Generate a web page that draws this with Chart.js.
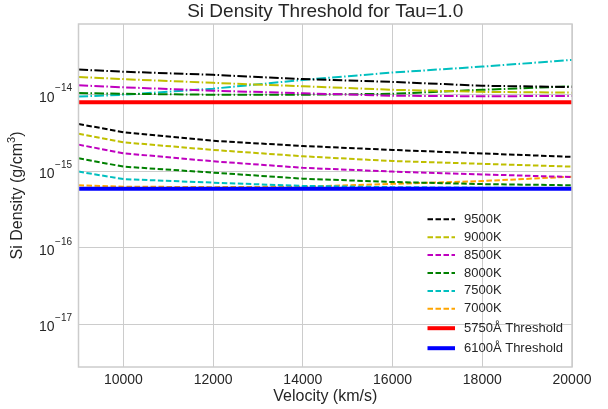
<!DOCTYPE html>
<html>
<head>
<meta charset="utf-8">
<script src="https://cdn.jsdelivr.net/npm/chart.js@4"></script>
<style>
  html, body { margin: 0; padding: 0; background: #ffffff; }
  #wrap { width: 608px; height: 409px; }
</style>
</head>
<body>
<div id="wrap"><canvas id="chart"></canvas></div>
<script>
// velocities (km/s) where the thresholds were computed
const velocities = [9000, 10000, 12000, 14000, 16000, 18000, 20000];

// dashed curves (labelled in the legend)
const dens9500 = [4.15e-15, 3.24e-15, 2.5e-15, 2.14e-15, 1.9e-15, 1.71e-15, 1.54e-15];
const dens9000 = [3.1e-15, 2.39e-15, 1.9e-15, 1.57e-15, 1.36e-15, 1.25e-15, 1.15e-15];
const dens8500 = [2.23e-15, 1.72e-15, 1.35e-15, 1.11e-15, 9.9e-16, 9.1e-16, 8.4e-16];
const dens8000 = [1.48e-15, 1.15e-15, 9.6e-16, 8.0e-16, 7.24e-16, 6.8e-16, 6.56e-16];
const dens7500 = [9.9e-16, 7.9e-16, 7.1e-16, 6.43e-16, 6.2e-16, 6.1e-16, 6.0e-16];
const dens7000 = [6.56e-16, 6.3e-16, 6.2e-16, 6.3e-16, 6.85e-16, 7.46e-16, 8.5e-16];

// dash-dot curves (second line, no legend entry)
const alt9500 = [2.13e-14, 2.0e-14, 1.82e-14, 1.6e-14, 1.47e-14, 1.31e-14, 1.26e-14];
const alt9000 = [1.71e-14, 1.6e-14, 1.43e-14, 1.29e-14, 1.16e-14, 1.09e-14, 1.065e-14];
const alt8500 = [1.33e-14, 1.25e-14, 1.13e-14, 1.045e-14, 9.7e-15, 9.55e-15, 9.65e-15];
const alt8000 = [1.055e-14, 1.03e-14, 1.0e-14, 1.0e-14, 1.03e-14, 1.16e-14, 1.29e-14];
const alt7500 = [9.45e-15, 1.0e-14, 1.2e-14, 1.56e-14, 1.95e-14, 2.33e-14, 2.85e-14];

// horizontal thresholds
const threshold5750 = 8.0e-15;
const threshold6100 = 5.9e-16;

const tempLabels = ["9500K", "9000K", "8500K", "8000K", "7500K", "7000K"];
const tempColors = ["#000000", "#bfbf00", "#bf00bf", "#008000", "#00bfbf", "#ffa500"];
const xTicks = [10000, 12000, 14000, 16000, 18000, 20000];
const yTicks = [1e-17, 1e-16, 1e-15, 1e-14];

const FONT = "'Liberation Sans', Arial, sans-serif";
const TEXT = "#262626";
const GRID = "#cccccc";
const DASH = [5.5, 2.5];
const DASHDOT = [9.6, 2.4, 1.5, 2.4];

function toPoints(values) {
  return velocities.map((v, i) => ({ x: v, y: values[i] }));
}

const dashedSets = [dens9500, dens9000, dens8500, dens8000, dens7500, dens7000];
const dashDotSets = [alt9500, alt9000, alt8500, alt8000, alt7500];

const datasets = [];
datasets.push({
  label: "5750Å Threshold",
  data: velocities.map((v) => ({ x: v, y: threshold5750 })),
  borderColor: "#ff0000",
  borderWidth: 4,
  order: 0,
  legend: true,
});
datasets.push({
  label: "6100Å Threshold",
  data: velocities.map((v) => ({ x: v, y: threshold6100 })),
  borderColor: "#0000ff",
  borderWidth: 4,
  order: 0,
  legend: true,
});
dashedSets.forEach((values, i) => {
  datasets.push({
    label: tempLabels[i],
    data: toPoints(values),
    borderColor: tempColors[i],
    borderWidth: 2,
    borderDash: DASH,
    order: 1,
    legend: true,
  });
});
dashDotSets.forEach((values, i) => {
  datasets.push({
    label: "",
    data: toPoints(values),
    borderColor: tempColors[i],
    borderWidth: 2,
    borderDash: DASHDOT,
    order: 1,
    legend: false,
  });
});

const legendOrder = [...tempLabels, "5750Å Threshold", "6100Å Threshold"];

const decorPlugin = {
  id: "decor",
  afterDraw(chart) {
    const { ctx, chartArea, scales } = chart;
    ctx.save();

    // frame
    ctx.strokeStyle = GRID;
    ctx.lineWidth = 1.5;
    ctx.setLineDash([]);
    ctx.strokeRect(chartArea.left, chartArea.top, chartArea.right - chartArea.left, chartArea.bottom - chartArea.top);

    // y tick labels with superscript exponents
    const yScale = scales.y;
    ctx.fillStyle = TEXT;
    ctx.textBaseline = "middle";
    yScale.ticks.forEach((t) => {
      const y = yScale.getPixelForValue(t.value);
      const exp = "\u2212" + String(-Math.round(Math.log10(t.value)));
      const rightX = chartArea.left - 6.5;
      ctx.font = "10px " + FONT;
      const ew = ctx.measureText(exp).width;
      ctx.textAlign = "left";
      ctx.fillText(exp, rightX - ew, y - 6);
      ctx.font = "14px " + FONT;
      ctx.textAlign = "right";
      ctx.fillText("10", rightX - ew - 0.5, y + 3);
    });

    // title
    const cx = (chartArea.left + chartArea.right) / 2;
    ctx.font = "19px " + FONT;
    ctx.textAlign = "center";
    ctx.fillText("Si Density Threshold for Tau=1.0", cx, 12);

    // x title
    ctx.font = "16px " + FONT;
    ctx.fillText("Velocity (km/s)", cx, 397);

    // y title with superscript 3
    ctx.save();
    ctx.translate(18, (chartArea.top + chartArea.bottom) / 2);
    ctx.rotate(-Math.PI / 2);
    ctx.font = "16px " + FONT;
    const partA = "Si Density (g/cm";
    const wa = ctx.measureText(partA).width;
    ctx.font = "11px " + FONT;
    const wb = ctx.measureText("3").width;
    ctx.font = "16px " + FONT;
    const wc = ctx.measureText(")").width;
    let x0 = -(wa + wb + wc) / 2;
    ctx.textAlign = "left";
    ctx.fillText(partA, x0, 0);
    ctx.font = "11px " + FONT;
    ctx.fillText("3", x0 + wa, -6);
    ctx.font = "16px " + FONT;
    ctx.fillText(")", x0 + wa + wb, 0);
    ctx.restore();

    // legend inside plot (lower right)
    let ly = 219.3;
    legendOrder.forEach((label) => {
      const ds = chart.data.datasets.find((d) => d.label === label && d.legend);
      const thick = ds.borderWidth > 3;
      if (thick && label === "5750Å Threshold") ly += 1.5;
      ctx.strokeStyle = ds.borderColor;
      ctx.lineWidth = ds.borderWidth;
      ctx.setLineDash(ds.borderDash || []);
      ctx.beginPath();
      ctx.moveTo(427.5, ly);
      ctx.lineTo(455, ly);
      ctx.stroke();
      ctx.setLineDash([]);
      ctx.fillStyle = TEXT;
      ctx.font = "13px " + FONT;
      ctx.textAlign = "left";
      ctx.textBaseline = "middle";
      ctx.fillText(label, 464, ly);
      ly += thick ? 20 : 17.9;
    });

    ctx.restore();
  },
};

new Chart(document.getElementById("chart"), {
  type: "line",
  data: { datasets },
  options: {
    responsive: true,
    maintainAspectRatio: false,
    animation: false,
    devicePixelRatio: 1,
    layout: { padding: { left: 0, right: 36, top: 24, bottom: 0 } },
    elements: {
      line: { tension: 0, fill: false },
      point: { radius: 0, hoverRadius: 0 },
    },
    plugins: {
      legend: { display: false },
      tooltip: { enabled: false },
      title: { display: false },
    },
    scales: {
      x: {
        type: "linear",
        min: 9000,
        max: 20000,
        afterBuildTicks: (scale) => {
          scale.ticks = xTicks.map((v) => ({ value: v }));
        },
        afterFit: (scale) => {
          scale.height = 42;
        },
        grid: { color: GRID, lineWidth: 1, drawTicks: false },
        border: { display: false },
        ticks: {
          color: TEXT,
          font: { family: FONT, size: 14 },
          padding: 5,
          maxRotation: 0,
          callback: (v) => String(v),
        },
      },
      y: {
        type: "logarithmic",
        min: 2.77e-18,
        max: 8.4e-14,
        afterBuildTicks: (scale) => {
          scale.ticks = yTicks.map((v) => ({ value: v }));
        },
        afterFit: (scale) => {
          scale.width = 78.5;
        },
        grid: { color: GRID, lineWidth: 1, drawTicks: false },
        border: { display: false },
        ticks: { display: false },
      },
    },
  },
  plugins: [decorPlugin],
});
</script>
</body>
</html>
